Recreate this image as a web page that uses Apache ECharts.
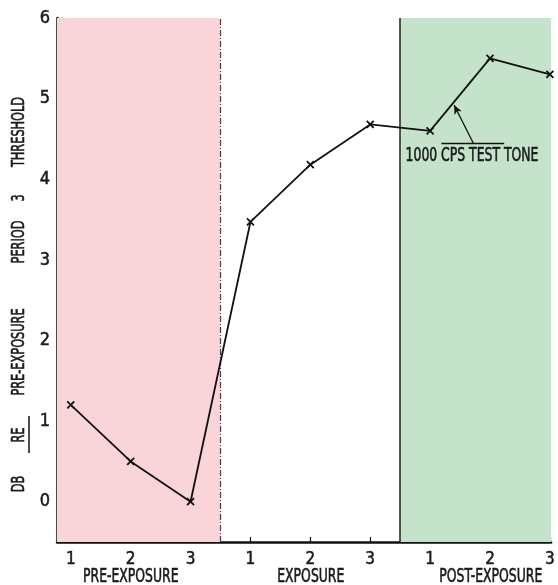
<!DOCTYPE html>
<html><head><meta charset="utf-8">
<script src="https://cdn.jsdelivr.net/npm/echarts@6/dist/echarts.min.js"></script>
<style>html,body{margin:0;padding:0;background:#fff}#c{width:558px;height:585px}</style>
</head><body><div id="c"></div>
<script>
var tickLabels = ['1','2','3','1','2','3','1','2','3'];
var groupLabels = ['PRE-EXPOSURE','EXPOSURE','POST-EXPOSURE'];
var thresholds = [1.2, 0.5, 0.0, 3.47, 4.18, 4.68, 4.6, 5.5, 5.3];
var yTicks = [0,1,2,3,4,5,6];
var phaseBounds = [0.77, 3.5, 6.5, 9.02];
var yTitleWords = ['THRESHOLD','3','PERIOD','PRE-EXPOSURE','RE','DB'];
var annotationText = '1000 CPS TEST TONE';

var FONT = "'DejaVu Sans Condensed','DejaVu Sans',sans-serif";
var INK = '#1a1a1a';
var xVals = tickLabels.map(function(_, i){ return i + 1; });
var data = thresholds.map(function(v, i){ return [i + 1, v]; });

var chart = echarts.init(document.getElementById('c'));
var gridLeft = 57, gridTop = 18, gridW = 495, gridH = 524;
function px(xv){ return gridLeft + (xv - phaseBounds[0]) / (phaseBounds[3] - phaseBounds[0]) * gridW; }

function txtStyle(t, size){
  return {text: t, fontFamily: FONT, fontSize: size, fill: INK, stroke: INK, lineWidth: 0.6,
          align: 'center', verticalAlign: 'middle'};
}
var titleY = [132, 198, 242, 352, 435, 484];
var graphics = [];
yTitleWords.forEach(function(w, i){
  graphics.push({type: 'text', x: 19, y: titleY[i], rotation: Math.PI/2, scaleX: 0.7, z: 100, style: txtStyle(w, 18)});
});
graphics.push({type: 'line', z: 100, shape: {x1: 29, y1: 416, x2: 29, y2: 453}, style: {stroke: '#111', lineWidth: 1.5}});
groupLabels.forEach(function(g, i){
  graphics.push({type: 'text', x: px(3 * i + 2), y: 577, scaleX: 0.69, z: 100, style: txtStyle(g, 20)});
});
graphics.push({type: 'text', x: 472, y: 156, scaleX: 0.69, z: 100, style: txtStyle(annotationText, 20)});

chart.setOption({
  animation: false,
  grid: {left: gridLeft, top: gridTop, width: gridW, height: gridH},
  xAxis: {
    type: 'value', min: phaseBounds[0], max: phaseBounds[3],
    axisLine: {onZero: false, lineStyle: {color: '#111', width: 2.5}},
    axisTick: {show: true, inside: true, length: 5, customValues: xVals, lineStyle: {color: '#111', width: 1.2}},
    splitLine: {show: false},
    axisLabel: {
      customValues: xVals, margin: 9, color: INK, hideOverlap: false, showMaxLabel: true,
      fontFamily: FONT, fontSize: 17, textBorderColor: INK, textBorderWidth: 0.5,
      formatter: function(v){ return tickLabels[Math.round(v) - 1]; }
    }
  },
  yAxis: {
    type: 'value', min: -0.5, max: 6,
    axisLine: {show: true, lineStyle: {color: '#111', width: 2.5}},
    axisTick: {show: true, inside: true, length: 8, customValues: yTicks, lineStyle: {color: '#111', width: 1.2}},
    axisLabel: {customValues: yTicks, margin: 7, fontFamily: FONT, fontSize: 18, color: INK, textBorderColor: INK, textBorderWidth: 0.5},
    splitLine: {show: false}
  },
  series: [{
    type: 'line',
    data: data,
    symbol: 'path://M0,0L10,10M0,10L10,0',
    symbolSize: 7,
    lineStyle: {color: '#111', width: 1.8},
    itemStyle: {color: 'rgba(0,0,0,0)', borderColor: '#111', borderWidth: 1.8},
    z: 5,
    markArea: {
      silent: true,
      data: [
        [{xAxis: phaseBounds[0], itemStyle: {color: '#f9d5d9'}}, {xAxis: phaseBounds[1]}],
        [{xAxis: phaseBounds[2], itemStyle: {color: '#c5e3ca'}}, {xAxis: phaseBounds[3]}]
      ]
    },
    markLine: {
      silent: true, symbol: 'none', label: {show: false},
      data: [
        {xAxis: phaseBounds[1], lineStyle: {color: '#444', width: 1.2, type: [6, 2, 1, 2]}},
        {xAxis: phaseBounds[2], lineStyle: {color: '#222', width: 1.5, type: 'solid'}},
        [{coord: [7.187, 4.45], lineStyle: {color: '#111', width: 1.3, type: 'solid'}}, {coord: [8.237, 4.45]}],
        [{coord: [7.72, 4.45], symbol: 'none', lineStyle: {color: '#111', width: 1.3, type: 'solid'}},
         {coord: [7.40, 4.92], symbol: 'arrow', symbolSize: [6, 9]}]
      ]
    }
  }],
  graphic: graphics
});
</script></body></html>
